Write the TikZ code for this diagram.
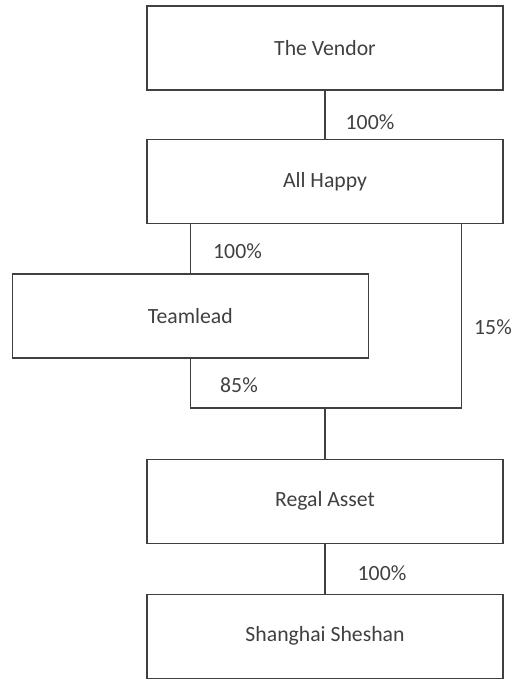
\documentclass[tikz,border=0pt]{standalone}
\usepackage{fontspec}
\setmainfont{Carlito}
\definecolor{ink}{HTML}{404040}
\begin{document}
\begin{tikzpicture}[x=1bp,y=-1bp,
  entity/.style={draw=ink, line width=1.4bp, rectangle, minimum width=356bp, minimum height=84bp, inner sep=0pt, text=ink, font=\fontsize{21.8}{26}\selectfont},
  conn/.style={draw=ink, line width=1.4bp},
  pct/.style={text=ink, font=\fontsize{21.8}{26}\selectfont, inner sep=0pt}]
\useasboundingbox (0,0) rectangle (515,679);
\node[entity] (vendor) at (325,48) {The Vendor};
\node[entity] (allhappy) at (325,181.5) {All Happy};
\node[entity] (teamlead) at (190.3,316) {Teamlead};
\node[entity] (regal) at (325,501.3) {Regal Asset};
\node[entity] (shanghai) at (325,636.3) {Shanghai Sheshan};
\coordinate (rc) at (461.7,408);
\coordinate (jn) at (regal.north |- rc);
\draw[conn] (vendor.south) -- (allhappy.north);
\draw[conn] (allhappy.south -| teamlead.north) -- (teamlead.north);
\draw[conn] (allhappy.south -| rc) -- (rc) -- (teamlead.south |- rc) -- (teamlead.south);
\draw[conn] (jn) -- (regal.north);
\draw[conn] (regal.south) -- (shanghai.north);
\node[pct] (p1) at (370,122) {100\%};
\node[pct] (p2) at (237.5,250.7) {100\%};
\node[pct] (p3) at (493,326.7) {15\%};
\node[pct] (p4) at (239,385) {85\%};
\node[pct] (p5) at (382,573) {100\%};
\end{tikzpicture}
\end{document}
